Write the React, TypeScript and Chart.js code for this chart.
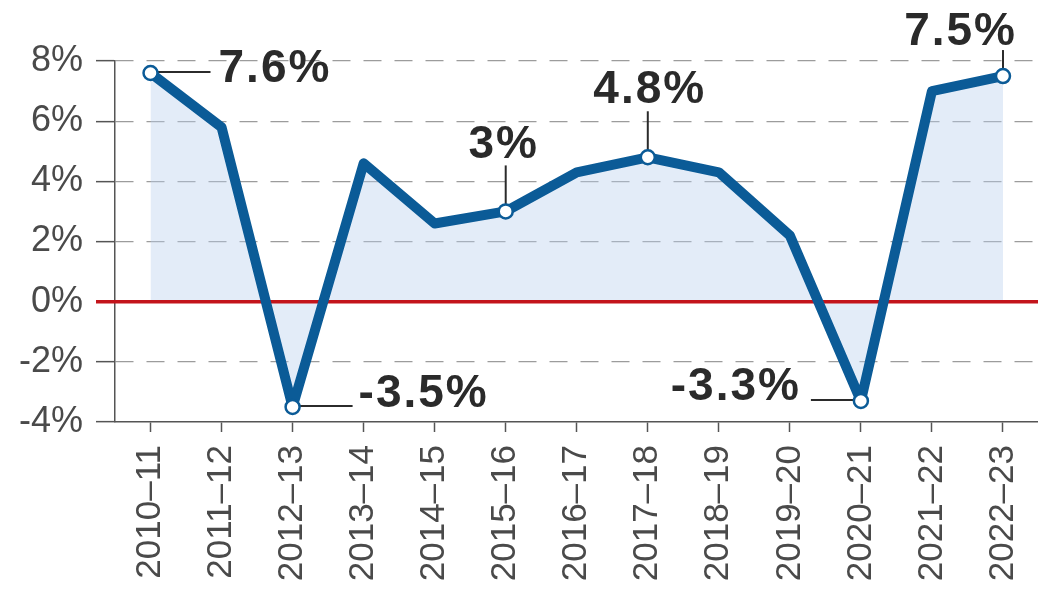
import React, { useEffect, useRef } from "react";
import { Chart, registerables } from "chart.js";

Chart.register(...registerables);

// ---- data ----
const categories = [
  "2010–11", "2011–12", "2012–13", "2013–14", "2014–15", "2015–16", "2016–17",
  "2017–18", "2018–19", "2019–20", "2020–21", "2021–22", "2022–23",
];
const growth = [7.6, 5.8, -3.5, 4.6, 2.6, 3.0, 4.3, 4.8, 4.3, 2.2, -3.3, 7.0, 7.5];
const yMin = -4;
const yMax = 8;
const yStep = 2;
const callouts = ["7.6%", "", "-3.5%", "", "", "3%", "", "4.8%", "", "", "-3.3%", "", "7.5%"];

// ---- styling / layout of callouts (relative to the point pixel) ----
type CalloutStyle = {
  dir: "right" | "left" | "up";
  len: number;
  tx: number;
  ty: number;
  align: CanvasTextAlign;
};
const calloutLayout: Record<number, CalloutStyle> = {
  0: { dir: "right", len: 60, tx: 68, ty: 9, align: "left" },
  2: { dir: "right", len: 60, tx: 66, ty: 0, align: "left" },
  5: { dir: "up", len: 46, tx: -2, ty: -53, align: "center" },
  7: { dir: "up", len: 46, tx: 2, ty: -54, align: "center" },
  10: { dir: "left", len: 50, tx: -60, ty: -1, align: "right" },
  12: { dir: "up", len: 26, tx: 14, ty: -31, align: "right" },
};

const LINE_BLUE = "#0b5b97";
const ZERO_RED = "#c3141b";
const AXIS_GREY = "#555555";
const CANVAS_W = 1048; // slightly wider than the page; extra right padding is clipped
const CANVAS_H = 616;

const calloutPlugin = {
  id: "callouts",
  beforeDatasetsDraw(chart: any) {
    const { ctx, scales } = chart;
    const y0 = scales.y.getPixelForValue(0);
    ctx.save();
    ctx.strokeStyle = ZERO_RED;
    ctx.lineWidth = 3.5;
    ctx.beginPath();
    ctx.moveTo(96, y0);
    ctx.lineTo(chart.width, y0);
    ctx.stroke();

    // leader lines
    const meta = chart.getDatasetMeta(0);
    ctx.strokeStyle = "#2b2b2b";
    ctx.lineWidth = 2;
    Object.keys(calloutLayout).forEach((k) => {
      const i = Number(k);
      const el = meta.data[i];
      const st = calloutLayout[i];
      ctx.beginPath();
      if (st.dir === "right") {
        ctx.moveTo(el.x, el.y - 1);
        ctx.lineTo(el.x + st.len, el.y - 1);
      } else if (st.dir === "left") {
        ctx.moveTo(el.x, el.y - 1);
        ctx.lineTo(el.x - st.len, el.y - 1);
      } else {
        ctx.moveTo(el.x, el.y);
        ctx.lineTo(el.x, el.y - st.len);
      }
      ctx.stroke();
    });
    ctx.restore();
  },
  afterDatasetsDraw(chart: any) {
    const { ctx } = chart;
    const meta = chart.getDatasetMeta(0);
    ctx.save();
    ctx.fillStyle = "#2a2a2a";
    ctx.font = "bold 46px 'Liberation Sans', Arial, sans-serif";
    ctx.textBaseline = "alphabetic";
    try {
      (ctx as any).letterSpacing = "2px";
    } catch (e) {}
    Object.keys(calloutLayout).forEach((k) => {
      const i = Number(k);
      const el = meta.data[i];
      const st = calloutLayout[i];
      ctx.textAlign = st.align;
      ctx.fillText(callouts[i], el.x + st.tx, el.y + st.ty);
    });
    ctx.restore();
  },
};

export default function App() {
  const ref = useRef<HTMLCanvasElement | null>(null);

  useEffect(() => {
    if (!ref.current) return;
    const chart = new Chart(ref.current, {
      type: "line",
      data: {
        labels: categories,
        datasets: [
          {
            data: growth,
            borderColor: LINE_BLUE,
            borderWidth: 10,
            borderJoinStyle: "round",
            backgroundColor: "rgba(185,207,238,0.4)",
            fill: "origin",
            tension: 0,
            pointRadius: callouts.map((c) => (c ? 7 : 0)),
            pointHoverRadius: callouts.map((c) => (c ? 7 : 0)),
            pointBackgroundColor: "#ffffff",
            pointBorderColor: LINE_BLUE,
            pointBorderWidth: 2.5,
          },
        ],
      },
      options: {
        responsive: false,
        animation: false,
        devicePixelRatio: 1,
        layout: { padding: { top: 61, left: 0, right: 0, bottom: 0 } },
        plugins: {
          legend: { display: false },
          tooltip: { enabled: false },
          filler: { drawTime: "beforeDatasetsDraw" },
        },
        scales: {
          x: {
            type: "category",
            offset: true,
            afterFit: (s: any) => {
              s.height = 194;
              s.paddingLeft = 0;
              s.paddingRight = 0;
            },
            grid: {
              offset: false,
              drawOnChartArea: false,
              drawTicks: true,
              tickLength: 10,
              tickColor: AXIS_GREY,
              tickWidth: 1.5,
            },
            border: { display: true, color: AXIS_GREY, width: 1.5 },
            ticks: {
              autoSkip: false,
              minRotation: 90,
              maxRotation: 90,
              padding: 13,
              color: "#4a4a4a",
              font: { family: "'Liberation Sans', Arial, sans-serif", size: 35 },
            },
          },
          y: {
            min: yMin,
            max: yMax,
            afterFit: (s: any) => {
              s.width = 115;
            },
            grid: {
              color: (c: any) =>
                c.tick && (c.tick.value === 0 || c.tick.value === yMin) ? "rgba(0,0,0,0)" : "#9c9c9c",
              lineWidth: 1.3,
              drawTicks: true,
              tickLength: 19,
              tickColor: AXIS_GREY,
              tickWidth: 1.5,
              tickBorderDash: [],
            },
            border: { display: true, color: AXIS_GREY, width: 1.5, dash: [18, 13] },
            ticks: {
              stepSize: yStep,
              padding: 13,
              color: "#4a4a4a",
              font: { family: "'Liberation Sans', Arial, sans-serif", size: 36 },
              callback: (v: any) => `${v}%`,
            },
          },
        },
      },
      plugins: [calloutPlugin],
    } as any);
    return () => chart.destroy();
  }, []);

  return (
    <div
      style={{
        position: "absolute",
        left: 0,
        top: 0,
        width: 1038,
        height: 616,
        overflow: "hidden",
        background: "#fff",
      }}
    >
      <canvas ref={ref} width={CANVAS_W} height={CANVAS_H} style={{ display: "block" }} />
    </div>
  );
}
